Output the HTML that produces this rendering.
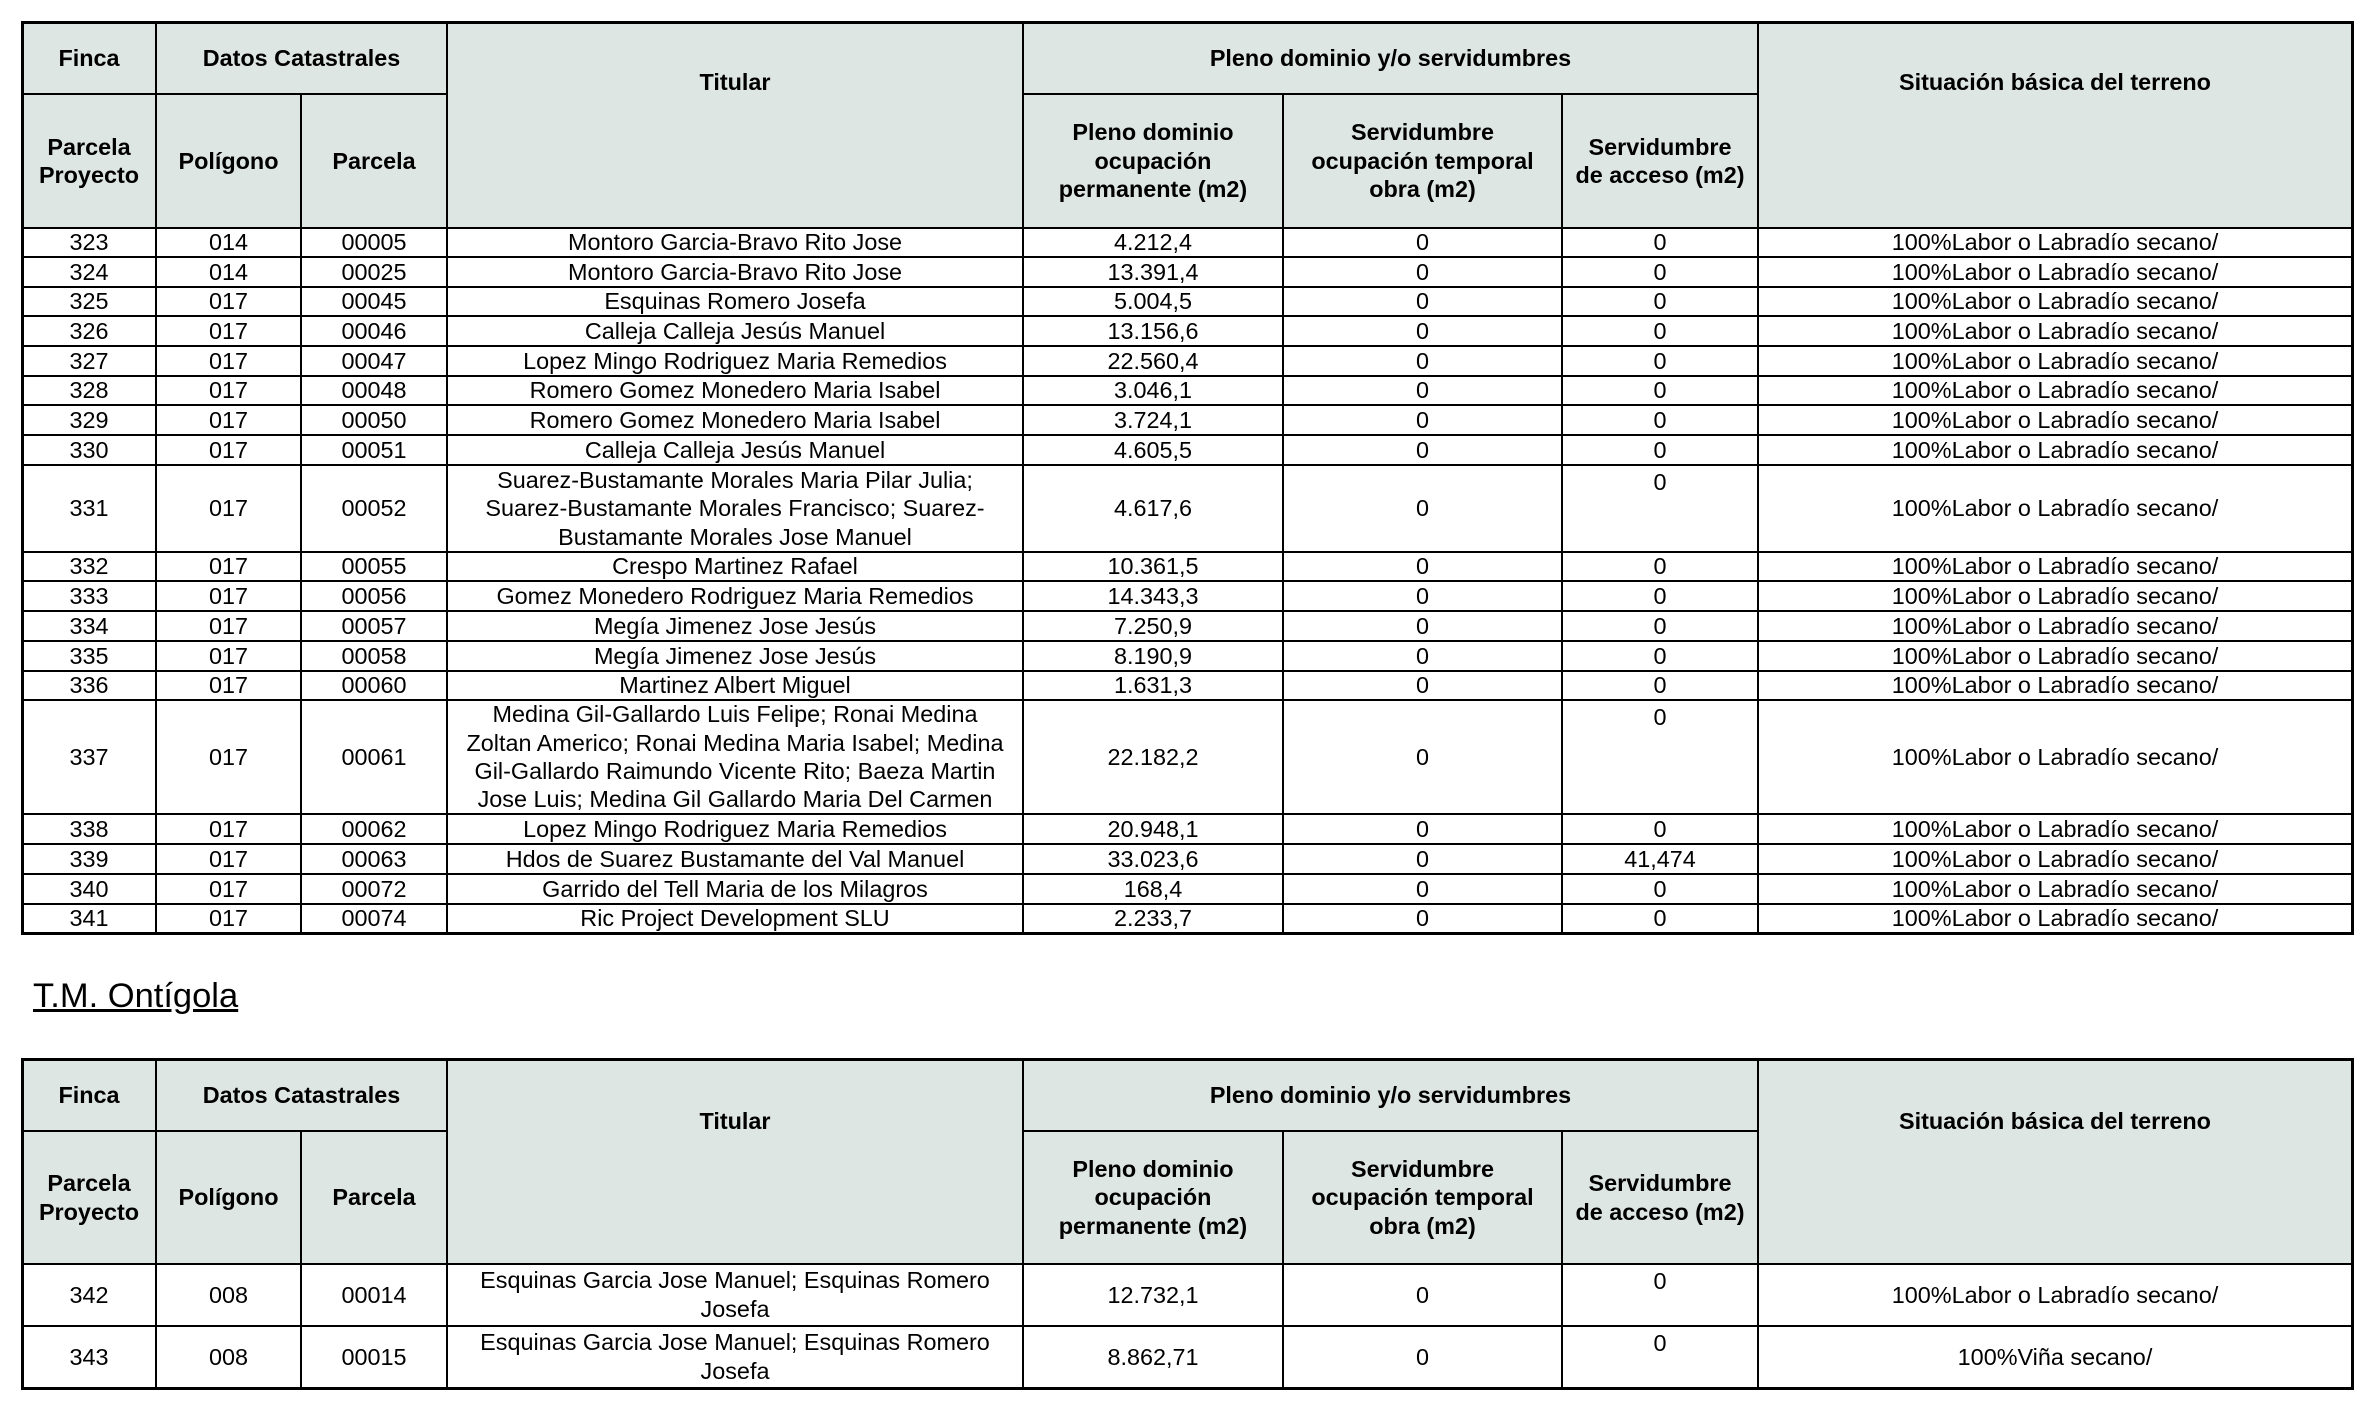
<!DOCTYPE html>
<html>
<head>
<meta charset="utf-8">
<style>
  html,body{margin:0;padding:0;}
  body{width:2368px;height:1428px;background:#fff;position:relative;overflow:hidden;
       font-family:"Liberation Sans", Arial, sans-serif;font-size:23.4px;color:#000;}
  .fill{position:absolute;background:#dee6e3;}
  .r{position:absolute;left:0;width:2368px;}
  .c{position:absolute;top:0;height:100%;display:flex;align-items:center;justify-content:center;
     text-align:center;line-height:28.4px;white-space:nowrap;box-sizing:border-box;}
  .tp{align-items:flex-start;padding-top:3px;}
  .b{font-weight:bold;}
  .c1{left:22px;width:134px;}
  .c2{left:156px;width:145px;}
  .c3{left:301px;width:146px;}
  .c4{left:447px;width:576px;}
  .c5{left:1023px;width:260px;}
  .c6{left:1283px;width:279px;}
  .c7{left:1562px;width:196px;}
  .c8{left:1758px;width:594px;}
  .c23{left:156px;width:291px;}
  .c57{left:1023px;width:735px;}
  .v{position:absolute;width:2px;background:#000;}
  .h{position:absolute;height:2px;background:#000;}
  .vo{width:3px;}
  .ho{height:3px;}
  .lbl{position:absolute;text-align:center;line-height:28.4px;white-space:nowrap;font-weight:bold;}
  .title{position:absolute;left:33px;top:976px;font-size:34.5px;line-height:40px;text-decoration:underline;white-space:nowrap;}
</style>
</head>
<body>

<!-- ================= TABLE 1 ================= -->
<div class="fill" style="left:22px;top:22px;width:2330px;height:206px;"></div>

<!-- header row 1 -->
<div class="r" style="top:22px;height:72px;">
  <div class="c c1 b">Finca</div>
  <div class="c c23 b">Datos Catastrales</div>
  <div class="c c57 b">Pleno dominio y/o servidumbres</div>
</div>
<div class="lbl" style="left:447px;width:576px;top:68px;">Titular</div>
<div class="lbl" style="left:1758px;width:594px;top:68px;">Situación básica del terreno</div>
<!-- header row 2 -->
<div class="r" style="top:94px;height:134px;">
  <div class="c c1 b">Parcela<br>Proyecto</div>
  <div class="c c2 b">Polígono</div>
  <div class="c c3 b">Parcela</div>
  <div class="c c5 b">Pleno dominio<br>ocupación<br>permanente (m2)</div>
  <div class="c c6 b">Servidumbre<br>ocupación temporal<br>obra (m2)</div>
  <div class="c c7 b">Servidumbre<br>de acceso (m2)</div>
</div>

<!-- data rows -->
<div class="r" style="top:228px;height:29px;"><div class="c c1">323</div><div class="c c2">014</div><div class="c c3">00005</div><div class="c c4">Montoro Garcia-Bravo Rito Jose</div><div class="c c5">4.212,4</div><div class="c c6">0</div><div class="c c7">0</div><div class="c c8">100%Labor o Labradío secano/</div></div>
<div class="r" style="top:257px;height:30px;"><div class="c c1">324</div><div class="c c2">014</div><div class="c c3">00025</div><div class="c c4">Montoro Garcia-Bravo Rito Jose</div><div class="c c5">13.391,4</div><div class="c c6">0</div><div class="c c7">0</div><div class="c c8">100%Labor o Labradío secano/</div></div>
<div class="r" style="top:287px;height:29px;"><div class="c c1">325</div><div class="c c2">017</div><div class="c c3">00045</div><div class="c c4">Esquinas Romero Josefa</div><div class="c c5">5.004,5</div><div class="c c6">0</div><div class="c c7">0</div><div class="c c8">100%Labor o Labradío secano/</div></div>
<div class="r" style="top:316px;height:30px;"><div class="c c1">326</div><div class="c c2">017</div><div class="c c3">00046</div><div class="c c4">Calleja Calleja Jesús Manuel</div><div class="c c5">13.156,6</div><div class="c c6">0</div><div class="c c7">0</div><div class="c c8">100%Labor o Labradío secano/</div></div>
<div class="r" style="top:346px;height:30px;"><div class="c c1">327</div><div class="c c2">017</div><div class="c c3">00047</div><div class="c c4">Lopez Mingo Rodriguez Maria Remedios</div><div class="c c5">22.560,4</div><div class="c c6">0</div><div class="c c7">0</div><div class="c c8">100%Labor o Labradío secano/</div></div>
<div class="r" style="top:376px;height:29px;"><div class="c c1">328</div><div class="c c2">017</div><div class="c c3">00048</div><div class="c c4">Romero Gomez Monedero Maria Isabel</div><div class="c c5">3.046,1</div><div class="c c6">0</div><div class="c c7">0</div><div class="c c8">100%Labor o Labradío secano/</div></div>
<div class="r" style="top:405px;height:30px;"><div class="c c1">329</div><div class="c c2">017</div><div class="c c3">00050</div><div class="c c4">Romero Gomez Monedero Maria Isabel</div><div class="c c5">3.724,1</div><div class="c c6">0</div><div class="c c7">0</div><div class="c c8">100%Labor o Labradío secano/</div></div>
<div class="r" style="top:435px;height:30px;"><div class="c c1">330</div><div class="c c2">017</div><div class="c c3">00051</div><div class="c c4">Calleja Calleja Jesús Manuel</div><div class="c c5">4.605,5</div><div class="c c6">0</div><div class="c c7">0</div><div class="c c8">100%Labor o Labradío secano/</div></div>
<div class="r" style="top:465px;height:87px;"><div class="c c1">331</div><div class="c c2">017</div><div class="c c3">00052</div><div class="c c4">Suarez-Bustamante Morales Maria Pilar Julia;<br>Suarez-Bustamante Morales Francisco; Suarez-<br>Bustamante Morales Jose Manuel</div><div class="c c5">4.617,6</div><div class="c c6">0</div><div class="c c7 tp">0</div><div class="c c8">100%Labor o Labradío secano/</div></div>
<div class="r" style="top:552px;height:29px;"><div class="c c1">332</div><div class="c c2">017</div><div class="c c3">00055</div><div class="c c4">Crespo Martinez Rafael</div><div class="c c5">10.361,5</div><div class="c c6">0</div><div class="c c7">0</div><div class="c c8">100%Labor o Labradío secano/</div></div>
<div class="r" style="top:581px;height:30px;"><div class="c c1">333</div><div class="c c2">017</div><div class="c c3">00056</div><div class="c c4">Gomez Monedero Rodriguez Maria Remedios</div><div class="c c5">14.343,3</div><div class="c c6">0</div><div class="c c7">0</div><div class="c c8">100%Labor o Labradío secano/</div></div>
<div class="r" style="top:611px;height:30px;"><div class="c c1">334</div><div class="c c2">017</div><div class="c c3">00057</div><div class="c c4">Megía Jimenez Jose Jesús</div><div class="c c5">7.250,9</div><div class="c c6">0</div><div class="c c7">0</div><div class="c c8">100%Labor o Labradío secano/</div></div>
<div class="r" style="top:641px;height:30px;"><div class="c c1">335</div><div class="c c2">017</div><div class="c c3">00058</div><div class="c c4">Megía Jimenez Jose Jesús</div><div class="c c5">8.190,9</div><div class="c c6">0</div><div class="c c7">0</div><div class="c c8">100%Labor o Labradío secano/</div></div>
<div class="r" style="top:671px;height:29px;"><div class="c c1">336</div><div class="c c2">017</div><div class="c c3">00060</div><div class="c c4">Martinez Albert Miguel</div><div class="c c5">1.631,3</div><div class="c c6">0</div><div class="c c7">0</div><div class="c c8">100%Labor o Labradío secano/</div></div>
<div class="r" style="top:700px;height:114px;"><div class="c c1">337</div><div class="c c2">017</div><div class="c c3">00061</div><div class="c c4">Medina Gil-Gallardo Luis Felipe; Ronai Medina<br>Zoltan Americo; Ronai Medina Maria Isabel; Medina<br>Gil-Gallardo Raimundo Vicente Rito; Baeza Martin<br>Jose Luis; Medina Gil Gallardo Maria Del Carmen</div><div class="c c5">22.182,2</div><div class="c c6">0</div><div class="c c7 tp">0</div><div class="c c8">100%Labor o Labradío secano/</div></div>
<div class="r" style="top:814px;height:30px;"><div class="c c1">338</div><div class="c c2">017</div><div class="c c3">00062</div><div class="c c4">Lopez Mingo Rodriguez Maria Remedios</div><div class="c c5">20.948,1</div><div class="c c6">0</div><div class="c c7">0</div><div class="c c8">100%Labor o Labradío secano/</div></div>
<div class="r" style="top:844px;height:30px;"><div class="c c1">339</div><div class="c c2">017</div><div class="c c3">00063</div><div class="c c4">Hdos de Suarez Bustamante del Val Manuel</div><div class="c c5">33.023,6</div><div class="c c6">0</div><div class="c c7">41,474</div><div class="c c8">100%Labor o Labradío secano/</div></div>
<div class="r" style="top:874px;height:30px;"><div class="c c1">340</div><div class="c c2">017</div><div class="c c3">00072</div><div class="c c4">Garrido del Tell Maria de los Milagros</div><div class="c c5">168,4</div><div class="c c6">0</div><div class="c c7">0</div><div class="c c8">100%Labor o Labradío secano/</div></div>
<div class="r" style="top:904px;height:29px;"><div class="c c1">341</div><div class="c c2">017</div><div class="c c3">00074</div><div class="c c4">Ric Project Development SLU</div><div class="c c5">2.233,7</div><div class="c c6">0</div><div class="c c7">0</div><div class="c c8">100%Labor o Labradío secano/</div></div>

<!-- table 1 vertical lines -->
<div class="v vo" style="left:21px;top:21px;height:913px;"></div>
<div class="v" style="left:155px;top:22px;height:911px;"></div>
<div class="v" style="left:300px;top:94px;height:839px;"></div>
<div class="v" style="left:446px;top:22px;height:911px;"></div>
<div class="v" style="left:1022px;top:22px;height:911px;"></div>
<div class="v" style="left:1282px;top:94px;height:839px;"></div>
<div class="v" style="left:1561px;top:94px;height:839px;"></div>
<div class="v" style="left:1757px;top:22px;height:911px;"></div>
<div class="v vo" style="left:2351px;top:21px;height:913px;"></div>

<!-- table 1 horizontal lines -->
<div class="h ho" style="left:21px;top:21px;width:2333px;"></div>
<div class="h" style="left:22px;top:93px;width:425px;"></div>
<div class="h" style="left:1023px;top:93px;width:735px;"></div>
<div class="h" style="left:22px;top:227px;width:2330px;"></div>
<div class="h" style="left:22px;top:256px;width:2330px;"></div>
<div class="h" style="left:22px;top:286px;width:2330px;"></div>
<div class="h" style="left:22px;top:315px;width:2330px;"></div>
<div class="h" style="left:22px;top:345px;width:2330px;"></div>
<div class="h" style="left:22px;top:375px;width:2330px;"></div>
<div class="h" style="left:22px;top:404px;width:2330px;"></div>
<div class="h" style="left:22px;top:434px;width:2330px;"></div>
<div class="h" style="left:22px;top:464px;width:2330px;"></div>
<div class="h" style="left:22px;top:551px;width:2330px;"></div>
<div class="h" style="left:22px;top:580px;width:2330px;"></div>
<div class="h" style="left:22px;top:610px;width:2330px;"></div>
<div class="h" style="left:22px;top:640px;width:2330px;"></div>
<div class="h" style="left:22px;top:670px;width:2330px;"></div>
<div class="h" style="left:22px;top:699px;width:2330px;"></div>
<div class="h" style="left:22px;top:813px;width:2330px;"></div>
<div class="h" style="left:22px;top:843px;width:2330px;"></div>
<div class="h" style="left:22px;top:873px;width:2330px;"></div>
<div class="h" style="left:22px;top:903px;width:2330px;"></div>
<div class="h ho" style="left:21px;top:932px;width:2333px;"></div>

<!-- ================= TITLE ================= -->
<div class="title">T.M. Ontígola</div>

<!-- ================= TABLE 2 ================= -->
<div class="fill" style="left:22px;top:1059px;width:2330px;height:205px;"></div>

<div class="r" style="top:1059px;height:72px;">
  <div class="c c1 b">Finca</div>
  <div class="c c23 b">Datos Catastrales</div>
  <div class="c c57 b">Pleno dominio y/o servidumbres</div>
</div>
<div class="lbl" style="left:447px;width:576px;top:1107px;">Titular</div>
<div class="lbl" style="left:1758px;width:594px;top:1107px;">Situación básica del terreno</div>
<div class="r" style="top:1131px;height:133px;">
  <div class="c c1 b">Parcela<br>Proyecto</div>
  <div class="c c2 b">Polígono</div>
  <div class="c c3 b">Parcela</div>
  <div class="c c5 b">Pleno dominio<br>ocupación<br>permanente (m2)</div>
  <div class="c c6 b">Servidumbre<br>ocupación temporal<br>obra (m2)</div>
  <div class="c c7 b">Servidumbre<br>de acceso (m2)</div>
</div>

<div class="r" style="top:1264px;height:62px;"><div class="c c1">342</div><div class="c c2">008</div><div class="c c3">00014</div><div class="c c4" style="line-height:29.5px;">Esquinas Garcia Jose Manuel; Esquinas Romero<br>Josefa</div><div class="c c5">12.732,1</div><div class="c c6">0</div><div class="c c7 tp">0</div><div class="c c8">100%Labor o Labradío secano/</div></div>
<div class="r" style="top:1326px;height:62px;"><div class="c c1">343</div><div class="c c2">008</div><div class="c c3">00015</div><div class="c c4" style="line-height:29.5px;">Esquinas Garcia Jose Manuel; Esquinas Romero<br>Josefa</div><div class="c c5">8.862,71</div><div class="c c6">0</div><div class="c c7 tp">0</div><div class="c c8">100%Viña secano/</div></div>

<!-- table 2 vertical lines -->
<div class="v vo" style="left:21px;top:1058px;height:332px;"></div>
<div class="v" style="left:155px;top:1059px;height:329px;"></div>
<div class="v" style="left:300px;top:1131px;height:257px;"></div>
<div class="v" style="left:446px;top:1059px;height:329px;"></div>
<div class="v" style="left:1022px;top:1059px;height:329px;"></div>
<div class="v" style="left:1282px;top:1131px;height:257px;"></div>
<div class="v" style="left:1561px;top:1131px;height:257px;"></div>
<div class="v" style="left:1757px;top:1059px;height:329px;"></div>
<div class="v vo" style="left:2351px;top:1058px;height:332px;"></div>

<!-- table 2 horizontal lines -->
<div class="h ho" style="left:21px;top:1058px;width:2333px;"></div>
<div class="h" style="left:22px;top:1130px;width:425px;"></div>
<div class="h" style="left:1023px;top:1130px;width:735px;"></div>
<div class="h" style="left:22px;top:1263px;width:2330px;"></div>
<div class="h" style="left:22px;top:1325px;width:2330px;"></div>
<div class="h ho" style="left:21px;top:1387px;width:2333px;"></div>

</body>
</html>
